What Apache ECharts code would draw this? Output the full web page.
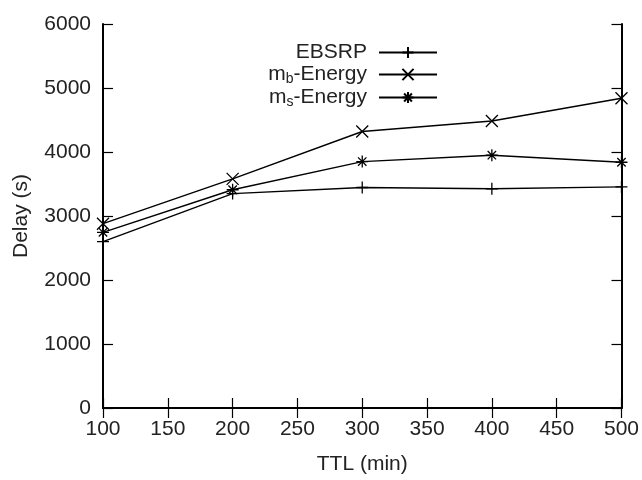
<!DOCTYPE html>
<html>
<head>
<meta charset="utf-8">
<script src="https://cdn.jsdelivr.net/npm/echarts@6/dist/echarts.min.js"></script>
<style>
  html, body { margin: 0; padding: 0; background: #fff; }
  #main { width: 642px; height: 480px; }
</style>
</head>
<body>
<div id="main"></div>
<script>
// TTL (min) on x, delay (s) on y
var ttl = [100, 200, 300, 400, 500];
var ebsrp = [2600, 3350, 3445, 3425, 3455];
var mbEnergy = [2880, 3580, 4320, 4485, 4840];
var msEnergy = [2745, 3410, 3850, 3950, 3840];
var xTicks = [100, 150, 200, 250, 300, 350, 400, 450, 500];
var yTicks = [0, 1000, 2000, 3000, 4000, 5000, 6000];

var FONT = 'Liberation Sans';
var plus = 'path://M5,0L5,10M0,5L10,5';
var cross = 'path://M0,0L10,10M10,0L0,10';
var star = 'path://M5,0L5,10M0,5L10,5M1.5,1.5L8.5,8.5M8.5,1.5L1.5,8.5';

function pairs(ys) {
    return ttl.map(function (x, i) { return [x, ys[i]]; });
}

function mkSeries(name, ys, sym) {
    return {
        name: name,
        type: 'line',
        data: pairs(ys),
        symbol: sym,
        symbolSize: 12,
        showSymbol: true,
        lineStyle: { color: '#000', width: 1.4 },
        itemStyle: { color: '#000', borderColor: '#000', borderWidth: 1.3 },
        emphasis: { disabled: true },
        animation: false
    };
}

var myChart = echarts.init(document.getElementById('main'));

var frameLine = { show: true, lineStyle: { color: '#000', width: 2 } };
var tickIn = { show: true, inside: true, length: 10, lineStyle: { color: '#000', width: 1.2 } };

myChart.setOption({
    animation: false,
    textStyle: { fontFamily: FONT },
    grid: { left: 103, right: 20, top: 24, bottom: 69 },
    legend: {
        orient: 'vertical',
        right: 199,
        top: 37,
        align: 'right',
        itemWidth: 58,
        itemHeight: 14,
        itemGap: 0,
        selectedMode: false,
        data: ['EBSRP', 'mb-Energy', 'ms-Energy'],
        formatter: function (name) {
            if (name === 'mb-Energy') return '{n|m}{s|b}{n|-Energy}';
            if (name === 'ms-Energy') return '{n|m}{s|s}{n|-Energy}';
            return '{n|' + name + '}';
        },
        textStyle: {
            color: '#222',
            fontFamily: FONT,
            fontSize: 21,
            padding: [0, 7, 0, 0],
            rich: {
                n: { fontSize: 21, lineHeight: 23, fontFamily: FONT, color: '#222' },
                s: { fontSize: 14, lineHeight: 14, padding: [9, 0, 0, 0], verticalAlign: 'bottom', fontFamily: FONT, color: '#222' }
            }
        }
    },
    xAxis: [{
        type: 'value',
        min: 100,
        max: 500,
        interval: 50,
        name: 'TTL (min)',
        nameLocation: 'middle',
        nameGap: 46,
        nameTextStyle: { fontSize: 21, color: '#222', fontFamily: FONT },
        axisLine: frameLine,
        axisTick: tickIn,
        splitLine: { show: false },
        axisLabel: {
            fontSize: 21, color: '#222', margin: 11, fontFamily: FONT,
            formatter: function (v) { return xTicks.indexOf(v) >= 0 ? String(v) : ''; }
        }
    }, {
        type: 'value',
        position: 'top',
        min: 100,
        max: 500,
        interval: 50,
        axisLine: frameLine,
        axisTick: tickIn,
        axisLabel: { show: false },
        splitLine: { show: false }
    }],
    yAxis: [{
        type: 'value',
        min: 0,
        max: 6000,
        interval: 1000,
        name: 'Delay (s)',
        nameLocation: 'middle',
        nameGap: 71,
        nameTextStyle: { fontSize: 21, color: '#222', fontFamily: FONT },
        axisLine: frameLine,
        axisTick: tickIn,
        splitLine: { show: false },
        axisLabel: {
            fontSize: 21, color: '#222', margin: 12, fontFamily: FONT,
            formatter: function (v) { return yTicks.indexOf(v) >= 0 ? String(v) : ''; }
        }
    }, {
        type: 'value',
        position: 'right',
        min: 0,
        max: 6000,
        interval: 1000,
        axisLine: frameLine,
        axisTick: tickIn,
        axisLabel: { show: false },
        splitLine: { show: false }
    }],
    series: [
        mkSeries('EBSRP', ebsrp, plus),
        mkSeries('mb-Energy', mbEnergy, cross),
        mkSeries('ms-Energy', msEnergy, star)
    ]
});
</script>
</body>
</html>
